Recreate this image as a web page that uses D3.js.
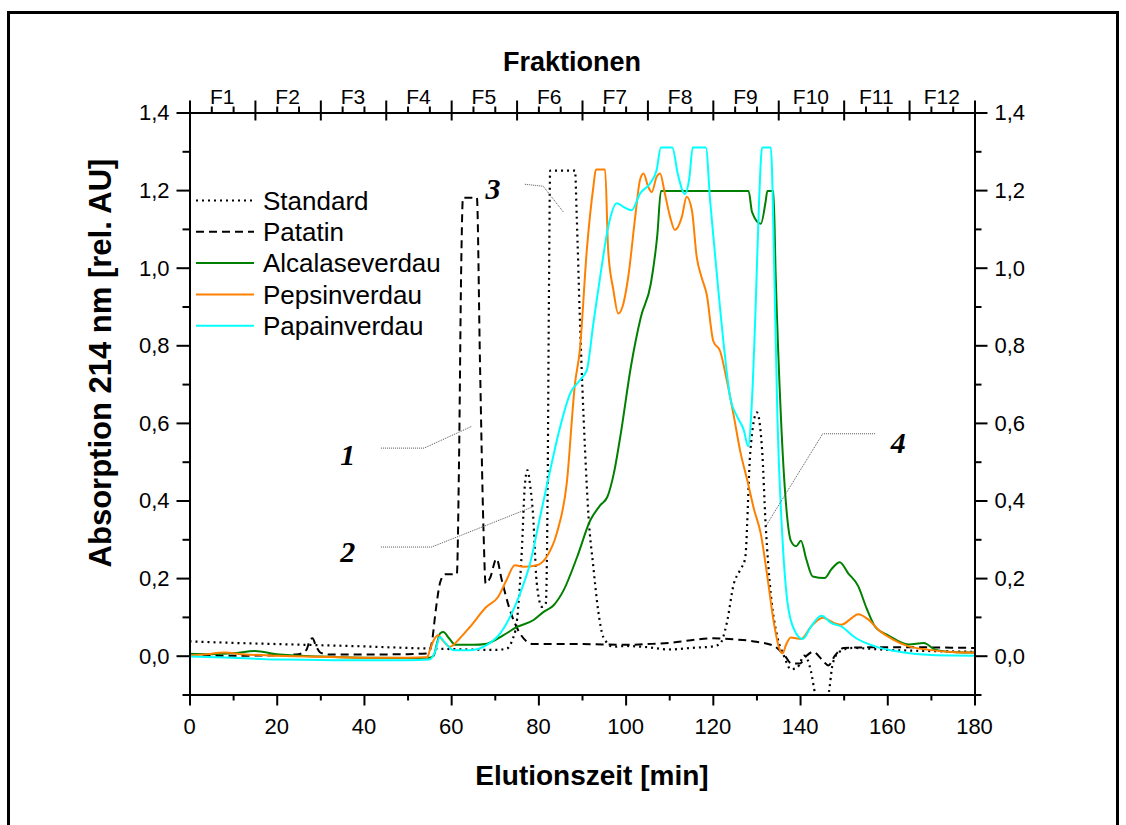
<!DOCTYPE html>
<html>
<head>
<meta charset="utf-8">
<script src="https://cdn.jsdelivr.net/npm/d3@7"></script>
<style>
  body { margin: 0; background: #fff; }
  svg text { font-family: "Liberation Sans", Arial, sans-serif; fill: #000; }
</style>
</head>
<body>
<svg id="chart" width="1126" height="825"></svg>
<script>
// ---- data (time in min, absorption in rel. AU)
const standard = [[0,0.037],[10,0.033],[20,0.03],[30,0.027],[40,0.024],[50,0.02],[60,0.017],[70,0.015],[72.7,0.018],[74,0.04],[75,0.083],[76.2,0.27],[76.9,0.44],[77.5,0.478],[78.1,0.44],[78.8,0.36],[79.6,0.19],[80.8,0.126],[81.7,0.135],[82.1,0.4],[82.4,0.9],[82.7,1.25],[88.4,1.25],[88.8,1.13],[89.5,0.873],[90.7,0.53],[91.5,0.358],[92.6,0.229],[93.7,0.117],[94.9,0.048],[97.2,0.023],[100,0.025],[105,0.022],[110,0.016],[115,0.02],[120,0.024],[121.6,0.03],[123.2,0.084],[124.8,0.185],[126.2,0.22],[127.4,0.25],[128.6,0.527],[130.1,0.627],[131.3,0.53],[132.1,0.34],[133.3,0.158],[134.8,0.048],[136.3,0.0],[137.9,-0.035],[139.4,-0.03],[141,0.0],[142.5,-0.04],[143.5,-0.1],[145,-0.13],[146.5,-0.1],[147.5,-0.02],[149,0.01],[152,0.02],[160,0.015],[170,0.012],[180,0.01]];

const patatin = [[0,0.0],[10,0.0],[20,0.001],[25,0.004],[26.8,0.015],[27.6,0.04],[28.2,0.045],[29,0.025],[30,0.008],[32,0.003],[40,0.003],[50,0.004],[54.5,0.006],[55.5,0.03],[56.5,0.12],[57.5,0.19],[58.6,0.21],[61.3,0.21],[61.8,0.5],[62.3,1.0],[62.7,1.18],[65.9,1.18],[66.6,0.76],[67.4,0.33],[67.9,0.186],[68.9,0.2],[70.4,0.25],[71.6,0.195],[73.5,0.117],[75.8,0.057],[78.8,0.03],[80,0.03],[90,0.03],[100,0.028],[105,0.03],[110,0.033],[115,0.04],[120,0.045],[125,0.042],[130,0.036],[134,0.025],[136.5,0.0],[138,-0.02],[140,-0.02],[141.5,0.0],[143,0.01],[145,-0.01],[146.5,-0.025],[148,0.0],[150,0.02],[160,0.022],[180,0.02]];

const alcalase = [[0,0.005],[5,0.004],[10,0.006],[15,0.012],[20,0.004],[30,-0.002],[40,-0.005],[50,-0.006],[55,-0.005],[56,0.0],[56.7,0.03],[57.5,0.058],[58.2,0.061],[59.5,0.045],[61,0.028],[65,0.028],[68.2,0.031],[72,0.053],[75.1,0.074],[78.9,0.092],[81.2,0.113],[83.5,0.13],[85.8,0.169],[88.9,0.255],[91.9,0.349],[94.2,0.388],[95.8,0.409],[97.3,0.47],[98.9,0.573],[101.2,0.744],[103.5,0.873],[105.8,0.96],[107.3,1.088],[108.1,1.198],[128.2,1.198],[129,1.143],[131,1.113],[132.1,1.17],[132.5,1.198],[133.9,1.198],[134.4,0.986],[135.6,0.618],[136.8,0.388],[137.9,0.296],[139.1,0.282],[140.2,0.296],[141.4,0.25],[142.9,0.204],[145.6,0.2],[147.2,0.223],[149.1,0.241],[151,0.213],[153.3,0.18],[155.3,0.121],[157.2,0.075],[160.3,0.052],[164.9,0.029],[168.4,0.033],[171.1,0.015],[175.7,0.009],[180,0.008]];

const pepsin = [[0,0.0],[4,0.004],[8,0.008],[12,0.004],[20,0.0],[30,-0.003],[40,-0.005],[50,-0.005],[54.5,-0.004],[55.1,0.014],[56,0.04],[57,0.053],[58,0.04],[59.7,0.023],[62,0.045],[64.3,0.074],[68.1,0.126],[70.8,0.152],[72.7,0.195],[74.6,0.233],[76.5,0.229],[79.6,0.233],[81.9,0.255],[84.2,0.315],[86.5,0.444],[88.4,0.702],[89.5,0.787],[91.1,1.045],[92.6,1.208],[93.2,1.253],[95.3,1.253],[96,1.045],[97.2,0.942],[98.3,0.882],[99.5,0.908],[100.6,0.976],[102.2,1.131],[103.3,1.226],[104.1,1.243],[105.2,1.208],[106,1.195],[107.1,1.234],[107.9,1.243],[109,1.191],[110.2,1.131],[111.3,1.097],[112.9,1.131],[114,1.183],[115.2,1.148],[116.3,1.028],[117.4,0.976],[118.6,0.931],[120.1,0.811],[121.7,0.784],[123.2,0.71],[124.8,0.618],[126.3,0.526],[127.9,0.452],[129.4,0.379],[131,0.314],[132.5,0.204],[134,0.084],[135.2,0.02],[136,0.006],[136.8,0.029],[137.9,0.047],[140.2,0.043],[142.5,0.075],[145.2,0.098],[147.9,0.084],[149.5,0.08],[151.4,0.093],[153.3,0.107],[155.7,0.093],[158,0.066],[161.1,0.043],[164.9,0.024],[169.6,0.015],[175.7,0.009],[180,0.008]];

const papain = [[0,-0.002],[10,-0.005],[20,-0.01],[30,-0.011],[40,-0.012],[50,-0.012],[55,-0.01],[56.3,0.01],[57.4,0.048],[58.5,0.035],[60.5,0.014],[64.3,0.014],[68.1,0.027],[71.2,0.057],[73.5,0.1],[75.8,0.16],[78.1,0.238],[80.4,0.358],[82.7,0.478],[85,0.59],[87.3,0.676],[89.5,0.71],[91.1,0.736],[92.6,0.856],[94.5,1.002],[96,1.105],[98,1.166],[99.5,1.157],[101.4,1.148],[103.3,1.191],[105.6,1.217],[107.1,1.251],[108.1,1.31],[110.7,1.31],[112,1.24],[113.6,1.19],[114.6,1.23],[115.4,1.31],[118.4,1.31],[119.4,1.17],[120.9,0.986],[122.5,0.802],[124,0.664],[125.5,0.618],[127.1,0.581],[128.1,0.54],[129,0.664],[129.8,0.894],[130.6,1.17],[131.3,1.31],[133.3,1.31],[134.1,0.986],[134.8,0.618],[136,0.296],[137.1,0.139],[138.7,0.066],[140.6,0.043],[142.5,0.075],[144.9,0.103],[147.2,0.084],[149.5,0.075],[152.6,0.047],[157.2,0.024],[163.4,0.009],[171.1,0.001],[180,0.0]];

const seriesNames = ["Standard", "Patatin", "Alcalaseverdau", "Pepsinverdau", "Papainverdau"];
const fractionLabels = ["F1","F2","F3","F4","F5","F6","F7","F8","F9","F10","F11","F12"];
const xTicks = [0, 20, 40, 60, 80, 100, 120, 140, 160, 180];
const yTicks = [0, 0.2, 0.4, 0.6, 0.8, 1.0, 1.2, 1.4];

// peak annotations: label, label position, leader line (all in data units)
const peakLabels = [
  { text: "1", t: 36.3, v: 0.52, line: [[43.9, 0.535], [53.8, 0.535], [64.7, 0.591]] },
  { text: "2", t: 36.3, v: 0.27, line: [[43.9, 0.28], [55.5, 0.28], [78.8, 0.384]] },
  { text: "3", t: 69.6, v: 1.205, line: [[76.9, 1.215], [81.1, 1.21], [85.7, 1.144]] },
  { text: "4", t: 162.5, v: 0.55, line: [[157.2, 0.572], [145.2, 0.572], [132.1, 0.333]] }
];

const colors = ["#000", "#000", "#008000", "#ff8000", "#00ffff"];
const dashes = ["2,4", "8,5", null, null, null];
const widths = [2.2, 2, 2, 2, 2];

// ---- layout
const plotL = 189.5, plotR = 974.5, plotT = 112.5, plotB = 694.5;
const svg = d3.select("#chart");

const x = d3.scaleLinear().domain([0, 180]).range([plotL, plotR]);
const y = d3.scaleLinear().domain([-0.1, 1.4]).range([plotB, plotT]);
const fmt = d => d3.format(".1f")(d).replace(".", ",");

// outer frame
svg.append("rect")
  .attr("x", 8.5).attr("y", 12.5)
  .attr("width", 1109).attr("height", 850)
  .attr("fill", "none").attr("stroke", "#000").attr("stroke-width", 3);

// curves
svg.append("clipPath").attr("id", "plotclip")
  .append("rect")
  .attr("x", plotL).attr("y", plotT)
  .attr("width", plotR - plotL).attr("height", plotB - plotT);

const line = d3.line()
  .x(d => x(d[0]))
  .y(d => y(d[1]))
  .curve(d3.curveMonotoneX);

const allSeries = [standard, patatin, alcalase, pepsin, papain];
svg.append("g").attr("clip-path", "url(#plotclip)")
  .selectAll("path")
  .data(allSeries)
  .join("path")
  .attr("d", line)
  .attr("fill", "none")
  .attr("stroke", (d, i) => colors[i])
  .attr("stroke-width", (d, i) => widths[i])
  .attr("stroke-dasharray", (d, i) => dashes[i]);

// axes
function styleAxis(g) {
  g.selectAll("path, line").attr("stroke", "#000").attr("stroke-width", 2);
  g.selectAll("text").remove();
}

// bottom
svg.append("g").attr("transform", `translate(0,${plotB})`)
  .call(d3.axisBottom(x).tickValues(xTicks).tickSize(11).tickSizeOuter(0))
  .call(styleAxis);
svg.append("g").attr("transform", `translate(0,${plotB})`)
  .call(d3.axisBottom(x).tickValues(d3.range(10, 180, 20)).tickSize(6).tickSizeOuter(0))
  .call(styleAxis);
svg.append("g").selectAll("text")
  .data(xTicks).join("text")
  .attr("x", d => x(d)).attr("y", plotB + 39)
  .attr("text-anchor", "middle")
  .style("font-size", "22px")
  .text(d => d);

// left & right
[[d3.axisLeft, plotL, -1], [d3.axisRight, plotR, 1]].forEach(([ax, pos, dir]) => {
  svg.append("g").attr("transform", `translate(${pos},0)`)
    .call(ax(y).tickValues(yTicks).tickSize(13).tickSizeOuter(0))
    .call(styleAxis);
  svg.append("g").attr("transform", `translate(${pos},0)`)
    .call(ax(y).tickValues(d3.range(-0.1, 1.35, 0.2)).tickSize(7).tickSizeOuter(0))
    .call(styleAxis);
  svg.append("g").selectAll("text")
    .data(yTicks).join("text")
    .attr("x", pos + dir * 20)
    .attr("y", d => y(d))
    .attr("dy", "0.36em")
    .attr("text-anchor", dir < 0 ? "end" : "start")
    .style("font-size", "22px")
    .text(fmt);
});

// top: fraction axis
const fracBounds = d3.range(0, 181, 15);
const topAxis = svg.append("g").attr("transform", `translate(0,${plotT})`)
  .call(d3.axisTop(x).tickValues(fracBounds).tickSize(12).tickSizeOuter(0))
  .call(styleAxis);
topAxis.selectAll(".tick line").attr("y2", -12).attr("y1", 8);
svg.append("g").attr("transform", `translate(0,${plotT})`)
  .call(d3.axisTop(x).tickValues(d3.range(5, 180, 5).filter(d => d % 15 !== 0)).tickSize(6).tickSizeOuter(0))
  .call(styleAxis);
svg.append("g").selectAll("text")
  .data(fractionLabels).join("text")
  .attr("x", (d, i) => x(7.5 + 15 * i))
  .attr("y", plotT - 9)
  .attr("text-anchor", "middle")
  .style("font-size", "21px")
  .text(d => d);

// titles
svg.append("text")
  .attr("x", 572).attr("y", 71)
  .attr("text-anchor", "middle")
  .style("font-size", "27px").style("font-weight", "bold")
  .text("Fraktionen");
svg.append("text")
  .attr("x", 592).attr("y", 785)
  .attr("text-anchor", "middle")
  .style("font-size", "28px").style("font-weight", "bold")
  .text("Elutionszeit [min]");
svg.append("text")
  .attr("transform", "translate(111,363) rotate(-90)")
  .attr("text-anchor", "middle")
  .style("font-size", "31px").style("font-weight", "bold")
  .text("Absorption 214 nm [rel. AU]");

// legend
const legend = svg.append("g").selectAll("g")
  .data(seriesNames).join("g")
  .attr("transform", (d, i) => `translate(0,${200.5 + i * 31.3})`);
legend.append("line")
  .attr("x1", 196).attr("x2", 254)
  .attr("stroke", (d, i) => colors[i])
  .attr("stroke-width", (d, i) => widths[i])
  .attr("stroke-dasharray", (d, i) => dashes[i]);
legend.append("text")
  .attr("x", 263).attr("dy", "0.36em")
  .style("font-size", "26px")
  .text(d => d);

// peak annotations
const leader = d3.line().x(d => x(d[0])).y(d => y(d[1]));
svg.append("g").selectAll("path")
  .data(peakLabels).join("path")
  .attr("d", d => leader(d.line))
  .attr("fill", "none")
  .attr("stroke", "#555")
  .attr("stroke-width", 1)
  .attr("stroke-dasharray", "1,1");
svg.append("g").selectAll("text")
  .data(peakLabels).join("text")
  .attr("x", d => x(d.t)).attr("y", d => y(d.v))
  .attr("dy", "0.36em")
  .attr("text-anchor", "middle")
  .style("font-family", "'Liberation Serif', 'Times New Roman', serif")
  .style("font-weight", "bold").style("font-style", "italic")
  .style("font-size", "30px")
  .text(d => d.text);
</script>
</body>
</html>
